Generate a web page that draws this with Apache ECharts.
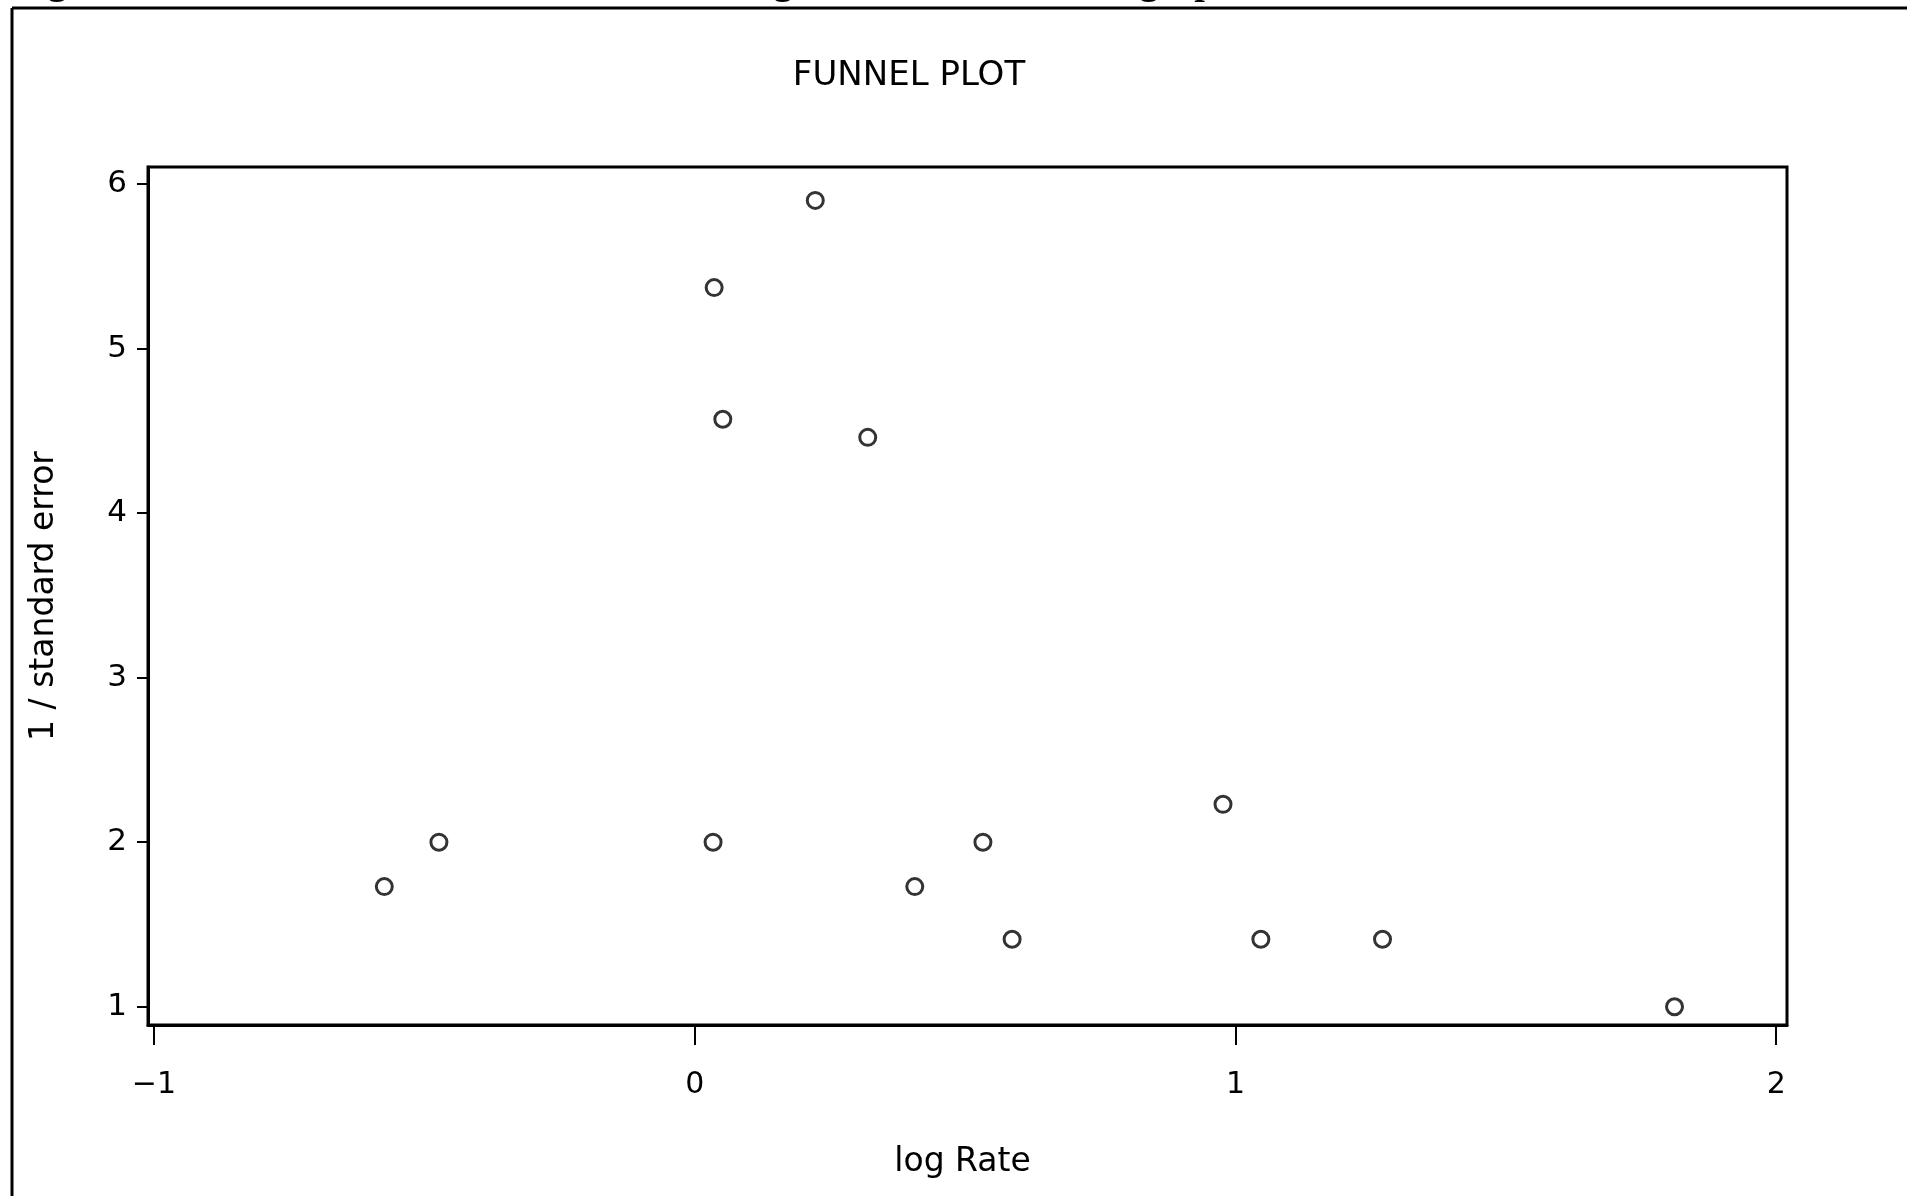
<!DOCTYPE html>
<html>
<head>
<meta charset="utf-8">
<title>Funnel plot</title>
<script src="https://cdn.jsdelivr.net/npm/echarts@6/dist/echarts.min.js"></script>
<style>
  html, body { margin: 0; padding: 0; background: #fff; }
  #chart { width: 1907px; height: 1196px; }
</style>
</head>
<body>
<div id="chart"></div>
<script>
// Study estimates: log rate (x) against precision, 1 / standard error (y)
const logRate   = [0.223, 0.036, 0.052, 0.320, -0.574, -0.473, 0.034, 0.533, 0.407, 0.587, 0.977, 1.047, 1.272, 1.812];
const precision = [5.90,  5.37,  4.57,  4.46,  1.73,   2.00,   2.00,  2.00,  1.73,  1.41,  2.23,  1.41,  1.41,  1.00];

// Axis ticks and labels
const xTicks = [-1, 0, 1, 2];
const yTicks = [1, 2, 3, 4, 5, 6];

const titleText = 'FUNNEL PLOT';
const xName = 'log Rate';
const yName = '1 / standard error';

const points = logRate.map((x, i) => [x, precision[i]]);

const FONT = '"DejaVu Sans", "Liberation Sans", sans-serif';
const SERIF = '"Liberation Serif", "DejaVu Serif", serif';

const chart = echarts.init(document.getElementById('chart'), null, { renderer: 'canvas' });

chart.setOption({
  backgroundColor: '#ffffff',
  animation: false,
  grid: {
    left: 148, right: 120, top: 167, bottom: 171,
    show: true, borderColor: '#000', borderWidth: 3, backgroundColor: 'transparent'
  },
  xAxis: {
    type: 'value',
    min: -1.011, max: 2.02,
    name: xName,
    nameLocation: 'middle',
    nameGap: 121,
    nameTextStyle: { fontFamily: FONT, fontSize: 33, color: '#000', padding: [0, 10, 0, 0] },
    axisLine: { show: true, onZero: false, lineStyle: { color: '#000', width: 3 } },
    axisTick: { show: true, length: 20, lineStyle: { color: '#000', width: 2 }, customValues: xTicks },
    axisLabel: {
      customValues: xTicks, margin: 45,
      fontFamily: FONT, fontSize: 30, color: '#000',
      formatter: v => (v < 0 ? '\u2212' + Math.abs(v) : String(v))
    },
    splitLine: { show: false }
  },
  yAxis: {
    type: 'value',
    min: 0.889, max: 6.103,
    name: yName,
    nameLocation: 'middle',
    nameGap: 87,
    nameTextStyle: { fontFamily: FONT, fontSize: 33, color: '#000' },
    axisLine: { show: true, onZero: false, lineStyle: { color: '#000', width: 3 } },
    axisTick: { show: true, length: 11, lineStyle: { color: '#000', width: 2 }, customValues: yTicks },
    axisLabel: {
      customValues: yTicks, margin: 21,
      fontFamily: FONT, fontSize: 31, color: '#000'
    },
    splitLine: { show: false }
  },
  series: [{
    type: 'scatter',
    data: points,
    symbol: 'circle',
    symbolSize: 16,
    itemStyle: { color: '#fff', borderColor: '#000', borderWidth: 3 },
    emphasis: { disabled: true }
  }],
  graphic: [
    // page frame
    { type: 'line', silent: true, shape: { x1: 12, y1: 8, x2: 1907, y2: 8 }, style: { stroke: '#000', lineWidth: 3 } },
    { type: 'line', silent: true, shape: { x1: 12, y1: 8, x2: 12, y2: 1196 }, style: { stroke: '#000', lineWidth: 3 } },
    // caption running above the frame
    { type: 'text', silent: true, left: 14, top: -35, style: { text: 'Figure 1.', font: 'bold 38px ' + SERIF, fill: '#000' } },
    { type: 'text', silent: true, left: 725, top: -35, style: { text: ', log Rate ratio', font: 'bold 38px ' + SERIF, fill: '#000' } },
    { type: 'text', silent: true, left: 1055, top: -35, style: { text: ', Geographic Zone', font: 'bold 38px ' + SERIF, fill: '#000' } },
    { type: 'text', silent: true, left: 1463, top: -35, style: { text: '10 km', font: 'bold 38px ' + SERIF, fill: '#000' } },
    // chart title
    { type: 'text', silent: true, x: 909, y: 76,
      style: { text: titleText, font: '34px ' + FONT, fill: '#000', align: 'center', verticalAlign: 'middle' } }
  ]
});
</script>
</body>
</html>
